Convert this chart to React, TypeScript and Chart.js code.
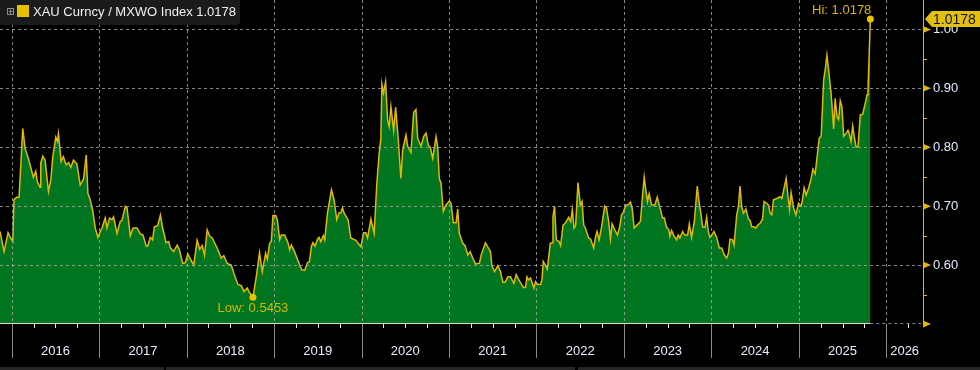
import React, { useEffect, useRef } from "react";
import { Chart, registerables } from "chart.js";

Chart.register(...registerables);

const SERIES_NAME = "XAU Curncy / MXWO Index";
const LAST_VALUE = 1.0178;

// decimal years
const TIME = [
  2015.866, 2015.912, 2015.958, 2015.981, 2016.012, 2016.026, 2016.057, 2016.084, 2016.126, 2016.153,
  2016.190, 2016.248, 2016.275, 2016.293, 2016.324, 2016.332, 2016.355, 2016.382, 2016.420, 2016.447,
  2016.470, 2016.504, 2016.523, 2016.534, 2016.565, 2016.591, 2016.622, 2016.649, 2016.676, 2016.706,
  2016.745, 2016.783, 2016.821, 2016.852, 2016.871, 2016.897, 2016.928, 2016.955, 2016.986, 2017.012,
  2017.032, 2017.069, 2017.089, 2017.119, 2017.146, 2017.165, 2017.203, 2017.241, 2017.261, 2017.299,
  2017.318, 2017.356, 2017.387, 2017.433, 2017.470, 2017.501, 2017.536, 2017.554, 2017.585, 2017.611,
  2017.631, 2017.669, 2017.700, 2017.726, 2017.765, 2017.795, 2017.814, 2017.852, 2017.891, 2017.917,
  2017.955, 2017.986, 2018.013, 2018.044, 2018.081, 2018.120, 2018.150, 2018.178, 2018.204, 2018.235,
  2018.265, 2018.292, 2018.349, 2018.395, 2018.425, 2018.464, 2018.510, 2018.540, 2018.586, 2018.625,
  2018.655, 2018.693, 2018.720, 2018.758, 2018.797, 2018.834, 2018.865, 2018.903, 2018.923, 2018.949,
  2018.968, 2018.987, 2019.018, 2019.037, 2019.064, 2019.083, 2019.121, 2019.159, 2019.178, 2019.198,
  2019.228, 2019.285, 2019.316, 2019.350, 2019.381, 2019.404, 2019.427, 2019.445, 2019.468, 2019.496,
  2019.514, 2019.534, 2019.564, 2019.579, 2019.610, 2019.656, 2019.686, 2019.717, 2019.743, 2019.763,
  2019.782, 2019.801, 2019.846, 2019.877, 2019.935, 2019.992, 2020.023, 2020.049, 2020.069, 2020.107,
  2020.144, 2020.175, 2020.202, 2020.221, 2020.233, 2020.252, 2020.275, 2020.298, 2020.316, 2020.336,
  2020.367, 2020.390, 2020.419, 2020.450, 2020.470, 2020.508, 2020.527, 2020.565, 2020.596, 2020.622,
  2020.642, 2020.680, 2020.710, 2020.737, 2020.763, 2020.786, 2020.814, 2020.852, 2020.871, 2020.889,
  2020.909, 2020.935, 2020.966, 2021.004, 2021.023, 2021.050, 2021.081, 2021.100, 2021.118, 2021.157,
  2021.184, 2021.215, 2021.241, 2021.272, 2021.302, 2021.348, 2021.367, 2021.417, 2021.451, 2021.474,
  2021.490, 2021.520, 2021.559, 2021.588, 2021.616, 2021.642, 2021.673, 2021.703, 2021.742, 2021.768,
  2021.799, 2021.826, 2021.852, 2021.875, 2021.891, 2021.909, 2021.932, 2021.971, 2021.990, 2022.017,
  2022.047, 2022.063, 2022.078, 2022.101, 2022.124, 2022.158, 2022.178, 2022.189, 2022.207, 2022.227,
  2022.258, 2022.276, 2022.304, 2022.330, 2022.368, 2022.391, 2022.410, 2022.430, 2022.448, 2022.475,
  2022.502, 2022.521, 2022.540, 2022.559, 2022.597, 2022.620, 2022.654, 2022.674, 2022.693, 2022.716,
  2022.743, 2022.780, 2022.800, 2022.826, 2022.846, 2022.865, 2022.895, 2022.926, 2022.952, 2022.972,
  2022.991, 2023.021, 2023.048, 2023.075, 2023.094, 2023.117, 2023.144, 2023.189, 2023.209, 2023.232,
  2023.250, 2023.270, 2023.289, 2023.316, 2023.354, 2023.381, 2023.411, 2023.442, 2023.462, 2023.488,
  2023.514, 2023.525, 2023.545, 2023.571, 2023.602, 2023.621, 2023.640, 2023.671, 2023.697, 2023.728,
  2023.748, 2023.774, 2023.805, 2023.839, 2023.858, 2023.881, 2023.900, 2023.927, 2023.946, 2023.965,
  2023.984, 2024.003, 2024.030, 2024.061, 2024.091, 2024.118, 2024.149, 2024.175, 2024.195, 2024.213,
  2024.241, 2024.259, 2024.290, 2024.309, 2024.328, 2024.347, 2024.367, 2024.396, 2024.424, 2024.442,
  2024.462, 2024.481, 2024.508, 2024.531, 2024.557, 2024.585, 2024.603, 2024.634, 2024.653, 2024.672,
  2024.691, 2024.710, 2024.748, 2024.786, 2024.806, 2024.832, 2024.855, 2024.875, 2024.894, 2024.912,
  2024.940, 2024.966, 2024.997, 2025.024, 2025.035, 2025.061, 2025.084, 2025.112, 2025.138, 2025.161,
  2025.187, 2025.207, 2025.233, 2025.256, 2025.284, 2025.302, 2025.321, 2025.341, 2025.367, 2025.379,
  2025.398, 2025.416, 2025.436, 2025.455, 2025.474, 2025.493, 2025.513, 2025.543, 2025.562, 2025.577,
  2025.597, 2025.616, 2025.634, 2025.654, 2025.677, 2025.703, 2025.730, 2025.760, 2025.780, 2025.791,
  2025.818,
];

const RATIO = [
  0.657, 0.623, 0.655, 0.648, 0.640, 0.711, 0.715, 0.715, 0.832, 0.798,
  0.781, 0.749, 0.759, 0.742, 0.732, 0.773, 0.785, 0.778, 0.725, 0.745,
  0.784, 0.817, 0.810, 0.823, 0.776, 0.784, 0.770, 0.774, 0.766, 0.778,
  0.772, 0.736, 0.746, 0.787, 0.722, 0.711, 0.691, 0.663, 0.647, 0.657,
  0.663, 0.680, 0.663, 0.680, 0.677, 0.682, 0.654, 0.674, 0.676, 0.700,
  0.698, 0.650, 0.663, 0.663, 0.653, 0.651, 0.633, 0.632, 0.647, 0.643,
  0.665, 0.667, 0.685, 0.663, 0.638, 0.640, 0.629, 0.623, 0.634, 0.626,
  0.603, 0.604, 0.619, 0.610, 0.600, 0.642, 0.627, 0.633, 0.617, 0.660,
  0.649, 0.646, 0.629, 0.612, 0.616, 0.603, 0.600, 0.586, 0.567, 0.565,
  0.555, 0.561, 0.553, 0.5453, 0.581, 0.621, 0.589, 0.620, 0.610, 0.637,
  0.640, 0.684, 0.684, 0.677, 0.643, 0.651, 0.651, 0.638, 0.626, 0.634,
  0.625, 0.603, 0.592, 0.591, 0.604, 0.606, 0.632, 0.638, 0.632, 0.644,
  0.647, 0.640, 0.650, 0.643, 0.688, 0.728, 0.711, 0.677, 0.689, 0.689,
  0.697, 0.688, 0.677, 0.646, 0.642, 0.631, 0.655, 0.655, 0.646, 0.678,
  0.654, 0.739, 0.790, 0.815, 0.907, 0.892, 0.911, 0.846, 0.835, 0.869,
  0.829, 0.868, 0.815, 0.747, 0.795, 0.821, 0.802, 0.791, 0.859, 0.864,
  0.815, 0.802, 0.818, 0.824, 0.804, 0.800, 0.781, 0.818, 0.800, 0.747,
  0.739, 0.691, 0.702, 0.709, 0.705, 0.672, 0.672, 0.695, 0.654, 0.637,
  0.633, 0.617, 0.623, 0.612, 0.602, 0.603, 0.617, 0.638, 0.629, 0.623,
  0.599, 0.589, 0.599, 0.589, 0.571, 0.571, 0.580, 0.580, 0.569, 0.584,
  0.575, 0.568, 0.562, 0.562, 0.580, 0.575, 0.578, 0.561, 0.572, 0.567,
  0.567, 0.575, 0.606, 0.600, 0.593, 0.637, 0.638, 0.682, 0.700, 0.643,
  0.640, 0.633, 0.668, 0.671, 0.681, 0.674, 0.694, 0.663, 0.667, 0.740,
  0.702, 0.708, 0.668, 0.663, 0.646, 0.644, 0.629, 0.647, 0.657, 0.643,
  0.663, 0.700, 0.697, 0.674, 0.644, 0.670, 0.660, 0.651, 0.665, 0.685,
  0.689, 0.702, 0.702, 0.707, 0.697, 0.663, 0.667, 0.674, 0.711, 0.749,
  0.728, 0.708, 0.721, 0.702, 0.702, 0.715, 0.698, 0.680, 0.680, 0.664,
  0.660, 0.649, 0.659, 0.650, 0.643, 0.651, 0.646, 0.657, 0.651, 0.651,
  0.670, 0.647, 0.674, 0.734, 0.708, 0.687, 0.665, 0.664, 0.681, 0.657,
  0.647, 0.651, 0.657, 0.647, 0.629, 0.629, 0.617, 0.612, 0.620, 0.644,
  0.643, 0.634, 0.685, 0.699, 0.734, 0.699, 0.688, 0.695, 0.678, 0.676,
  0.665, 0.665, 0.663, 0.668, 0.671, 0.678, 0.708, 0.705, 0.702, 0.688,
  0.685, 0.711, 0.713, 0.716, 0.713, 0.731, 0.747, 0.719, 0.694, 0.723,
  0.697, 0.685, 0.705, 0.700, 0.705, 0.731, 0.719, 0.731, 0.745, 0.763,
  0.755, 0.781, 0.815, 0.819, 0.914, 0.932, 0.956, 0.931, 0.894, 0.872,
  0.831, 0.883, 0.852, 0.847, 0.879, 0.869, 0.819, 0.824, 0.829, 0.823,
  0.810, 0.836, 0.818, 0.801, 0.801, 0.855, 0.856, 0.875, 0.889, 0.896,
  1.0178,
];

const YEAR_LABELS = [2016, 2017, 2018, 2019, 2020, 2021, 2022, 2023, 2024, 2025, 2026];
const Y_TICKS = [0.5, 0.6, 0.7, 0.8, 0.9, 1.0];
const Y_MINOR = [0.55, 0.65, 0.75, 0.85, 0.95];
const X_MIN = 2015.866;
const X_MAX = 2026.42;
const Y_MIN = 0.5;
const Y_MAX = 1.05;

const GOLD = "#e2b800";
const FILL = "#01751f";
const FONT = "'Liberation Sans', Arial, sans-serif";

const overlay = {
  id: "overlay",
  beforeDraw(chart: any) {
    const { ctx, width, height } = chart;
    ctx.save();
    ctx.fillStyle = "#000";
    ctx.fillRect(0, 0, width, height);
    ctx.restore();
  },
  afterDatasetsDraw(chart: any) {
    const { ctx, chartArea: ca, scales } = chart;
    const x = scales.x;
    const y = scales.y;
    ctx.save();

    // dashed grid on top of the fill
    ctx.strokeStyle = "rgba(165,165,165,0.8)";
    ctx.lineWidth = 1;
    ctx.setLineDash([3, 3]);
    for (const v of Y_TICKS.slice(1)) {
      const py = Math.round(y.getPixelForValue(v)) + 0.5;
      ctx.beginPath();
      ctx.moveTo(ca.left, py);
      ctx.lineTo(ca.right, py);
      ctx.stroke();
    }
    for (const yr of YEAR_LABELS) {
      const px = Math.round(x.getPixelForValue(yr)) + 0.5;
      if (px > ca.right) continue;
      ctx.beginPath();
      ctx.moveTo(px, ca.top);
      ctx.lineTo(px, ca.bottom);
      ctx.stroke();
    }
    // bottom line
    const lastX = x.getPixelForValue(TIME[TIME.length - 1]);
    const by = Math.round(ca.bottom) - 0.5;
    ctx.beginPath();
    ctx.moveTo(lastX, by);
    ctx.lineTo(ca.right, by);
    ctx.stroke();
    ctx.setLineDash([]);
    ctx.strokeStyle = "#dcdcdc";
    ctx.beginPath();
    ctx.moveTo(ca.left, by);
    ctx.lineTo(lastX, by);
    ctx.stroke();

    // x axis band: year separators and quarter ticks
    ctx.strokeStyle = "#8a8a8a";
    for (const yr of YEAR_LABELS) {
      const px = Math.round(x.getPixelForValue(yr)) + 0.5;
      if (px > ca.right) continue;
      ctx.beginPath();
      ctx.moveTo(px, ca.bottom);
      ctx.lineTo(px, ca.bottom + 34);
      ctx.stroke();
    }
    ctx.strokeStyle = "#e6e6e6";
    for (const yr of [2015, ...YEAR_LABELS]) {
      for (const q of [0.25, 0.5, 0.75]) {
        const px = Math.round(x.getPixelForValue(yr + q)) + 0.5;
        if (px < ca.left || px > ca.right) continue;
        ctx.beginPath();
        ctx.moveTo(px, ca.bottom);
        ctx.lineTo(px, ca.bottom + 4);
        ctx.stroke();
      }
    }

    // y axis markers
    ctx.fillStyle = GOLD;
    ctx.strokeStyle = GOLD;
    for (const v of Y_TICKS) {
      const py = y.getPixelForValue(v);
      ctx.beginPath();
      ctx.moveTo(ca.right, py - 3.5);
      ctx.lineTo(ca.right + 8, py);
      ctx.lineTo(ca.right, py + 3.5);
      ctx.closePath();
      ctx.fill();
    }
    for (const v of Y_MINOR) {
      const py = Math.round(y.getPixelForValue(v)) + 0.5;
      ctx.beginPath();
      ctx.moveTo(ca.right, py);
      ctx.lineTo(ca.right + 4, py);
      ctx.stroke();
    }

    // Hi / Low markers
    let hiI = 0;
    let loI = 0;
    RATIO.forEach((v, i) => {
      if (v > RATIO[hiI]) hiI = i;
      if (v < RATIO[loI]) loI = i;
    });
    const hx = x.getPixelForValue(TIME[hiI]);
    const hy = y.getPixelForValue(RATIO[hiI]);
    const lx = x.getPixelForValue(TIME[loI]);
    const ly = y.getPixelForValue(RATIO[loI]);
    ctx.fillStyle = "#e8c300";
    ctx.beginPath();
    ctx.arc(hx, hy, 3.5, 0, Math.PI * 2);
    ctx.fill();
    ctx.beginPath();
    ctx.arc(lx, ly, 3.5, 0, Math.PI * 2);
    ctx.fill();
    ctx.font = `13px ${FONT}`;
    ctx.fillStyle = "#d8b400";
    ctx.textBaseline = "middle";
    ctx.textAlign = "right";
    ctx.fillText(`Hi: ${RATIO[hiI].toFixed(4)}`, hx + 1, hy - 9);
    ctx.textAlign = "center";
    ctx.fillText(`Low: ${RATIO[loI].toFixed(4)}`, lx, ly + 11);

    // last price tag
    const ty = y.getPixelForValue(LAST_VALUE);
    ctx.fillStyle = "#e3c010";
    ctx.beginPath();
    ctx.moveTo(ca.right + 2, ty);
    ctx.lineTo(ca.right + 9, ty - 8);
    ctx.lineTo(chart.width, ty - 8);
    ctx.lineTo(chart.width, ty + 8);
    ctx.lineTo(ca.right + 9, ty + 8);
    ctx.closePath();
    ctx.fill();
    ctx.fillStyle = "#111";
    ctx.textAlign = "left";
    ctx.font = `14px ${FONT}`;
    ctx.fillText(LAST_VALUE.toFixed(4), ca.right + 10, ty + 1);

    // legend box
    ctx.fillStyle = "#1b1b1b";
    ctx.beginPath();
    ctx.moveTo(0, 0);
    ctx.lineTo(240, 0);
    ctx.lineTo(240, 21);
    ctx.quadraticCurveTo(240, 25, 236, 25);
    ctx.lineTo(0, 25);
    ctx.closePath();
    ctx.fill();
    ctx.strokeStyle = "#8c8c8c";
    ctx.strokeRect(7.5, 8.5, 6, 6);
    ctx.beginPath();
    ctx.moveTo(9, 11.5);
    ctx.lineTo(13, 11.5);
    ctx.moveTo(10.5, 9.5);
    ctx.lineTo(10.5, 14);
    ctx.stroke();
    ctx.fillStyle = "#e6c000";
    ctx.fillRect(17, 5, 12, 12);
    ctx.fillStyle = "#f0f0f0";
    ctx.font = `13px ${FONT}`;
    ctx.textAlign = "left";
    ctx.fillText(`${SERIES_NAME} ${LAST_VALUE.toFixed(4)}`, 33, 12);

    // bottom strip
    ctx.fillStyle = "#262626";
    ctx.fillRect(0, chart.height - 3, 164, 3);
    ctx.fillRect(166, chart.height - 3, 409, 3);
    ctx.fillRect(578, chart.height - 3, chart.width - 578, 3);

    ctx.restore();
  },
};

export default function App() {
  const ref = useRef<HTMLCanvasElement | null>(null);

  useEffect(() => {
    document.body.style.margin = "0";
    document.body.style.background = "#000";
    const canvas = ref.current;
    if (!canvas) return;
    const chart = new Chart(canvas, {
      type: "line",
      data: {
        datasets: [
          {
            data: TIME.map((t, i) => ({ x: t, y: RATIO[i] })),
            borderColor: GOLD,
            borderWidth: 1.5,
            backgroundColor: FILL,
            fill: "start",
            pointRadius: 0,
            tension: 0,
          },
        ],
      },
      options: {
        responsive: false,
        animation: false,
        devicePixelRatio: 1,
        layout: { padding: 0 },
        plugins: { legend: { display: false }, tooltip: { enabled: false } },
        scales: {
          x: {
            type: "linear",
            position: "bottom",
            min: X_MIN,
            max: X_MAX,
            grid: { display: false, drawTicks: false, tickLength: 0 },
            border: { display: false },
            afterBuildTicks: (s: any) => {
              s.ticks = YEAR_LABELS.map((yr) => ({ value: Math.min(yr + 0.5, (yr + X_MAX) / 2) }));
            },
            afterFit: (s: any) => {
              s.height = 46;
              s.paddingLeft = 0;
              s.paddingRight = 0;
            },
            ticks: {
              autoSkip: false,
              maxRotation: 0,
              minRotation: 0,
              padding: 20,
              color: "#e6edff",
              font: { family: FONT, size: 13 },
              callback: (v: any) => String(Math.floor(Number(v))),
            },
          },
          y: {
            type: "linear",
            position: "right",
            min: Y_MIN,
            max: Y_MAX,
            grid: { display: false, drawTicks: false, tickLength: 0 },
            border: { display: true, color: GOLD, width: 1 },
            afterBuildTicks: (s: any) => {
              s.ticks = Y_TICKS.map((v) => ({ value: v }));
            },
            afterFit: (s: any) => {
              s.width = 57;
              s.paddingTop = 0;
              s.paddingBottom = 0;
            },
            ticks: {
              padding: 10,
              color: "#e2ebff",
              font: { family: FONT, size: 13 },
              callback: (v: any) => (Number(v) <= 0.5 ? "" : Number(v).toFixed(2)),
            },
          },
        },
      },
      plugins: [overlay],
    } as any);
    return () => chart.destroy();
  }, []);

  return <canvas ref={ref} width={980} height={370} style={{ display: "block" }} />;
}
